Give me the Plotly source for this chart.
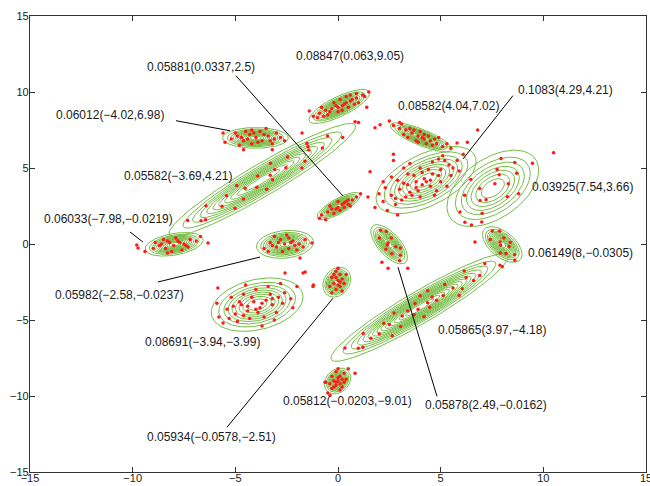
import numpy as np
import plotly.graph_objects as go

# ---- mixture components ----
weights = [0.08847, 0.05881, 0.06012, 0.08582, 0.1083, 0.05582, 0.03925, 0.06033,
           0.06149, 0.05982, 0.08691, 0.05865, 0.05812, 0.05878, 0.05934]
mean_x = [0.063, 0.0337, -4.02, 4.04, 4.29, -3.69, 7.54, -7.98,
          8.0, -2.58, -3.94, 3.97, -0.0203, 2.49, -0.0578]
mean_y = [9.05, 2.5, 6.98, 7.02, 4.21, 4.21, 3.66, -0.0219,
          -0.0305, -0.0237, -3.99, -4.18, -9.01, -0.0162, -2.51]
label_mx = ["0.063", "0.0337", "\u22124.02", "4.04", "4.29", "\u22123.69", "7.54", "\u22127.98",
            "8", "\u22122.58", "\u22123.94", "3.97", "\u22120.0203", "2.49", "\u22120.0578"]
label_my = ["9.05", "2.5", "6.98", "7.02", "4.21", "4.21", "3.66", "\u22120.0219",
            "\u22120.0305", "\u22120.0237", "\u22123.99", "\u22124.18", "\u22129.01", "\u22120.0162", "\u22122.51"]
# outer-contour semi axes (data units) and orientation (deg), estimated
semi_major = [1.75, 1.3, 1.6, 1.7, 2.9, 5.8, 2.9, 1.45, 1.35, 1.4, 2.35, 5.5, 0.88, 1.45, 1.0]
semi_minor = [0.6, 0.45, 0.68, 0.5, 1.55, 0.95, 1.7, 0.7, 0.7, 0.9, 1.6, 0.95, 0.6, 0.6, 0.65]
angle_deg = [35, 39, 0, -30, 40, 39, 52, 15, -55, 10, 25, 39, 70, -60, 75]
n_levels = [12, 12, 12, 12, 9, 11, 7, 12, 12, 12, 9, 14, 12, 12, 12]

# ---- sample points ----
pts_x = [
    # comp 1
    -1.2, -0.9, -0.6, -0.3, 0.0, 0.3, 0.6, 0.9, 1.2, -0.5, 0.2, 0.5, 0.8, -0.2, 0.1, 0.4, -0.8, 1.0, 0.0, 0.6, -1.4, 1.0, 1.4, 0.83,
    -1.0, -0.4, 0.2, 0.7, 1.3, -0.1, 0.4, 0.9, -0.7, 1.5,
    # comp 2
    -0.8, -0.5, -0.3, 0.0, 0.2, 0.4, 0.7, 0.9, -0.2, 0.1, 0.3, 0.5, -0.4, 0.0, 0.6, -0.9, 1.1, -0.6, -0.1, 0.3, 0.5,
    # comp 3
    -5.2, -4.9, -4.6, -4.3, -4.0, -3.7, -3.4, -3.1, -2.8, -4.5, -3.8, -3.2, -4.2, -5.5, -3.5, -4.8, -2.6, -4.1, -5.6, -4.6, -3.2, -1.75, -1.46,
    -4.4, -3.9, -3.6, -4.7, -5.0, -3.0, -4.2, -3.3,
    # comp 4
    2.7, 3.0, 3.3, 3.6, 3.9, 4.2, 4.5, 4.8, 5.1, 3.5, 4.0, 4.4, 3.8, 4.3, 3.2, 4.7, 5.3, 2.5, 3.0, 4.1, 1.8, 2.05, 6.8, 6.3, 5.8,
    3.4, 3.7, 4.6, 4.9, 3.1, 5.5, 4.2, 3.9,
    # comp 5
    2.2, 2.6, 3.0, 3.4, 3.8, 4.2, 4.6, 5.0, 5.4, 5.8, 2.8, 3.3, 3.9, 4.5, 5.0, 5.5, 2.3, 2.9, 3.4, 4.0, 4.6, 5.1, 3.6, 4.1, 4.4, 3.1, 4.8, 3.5, 2.0, 6.1,
    4.3, 3.7, 2.6, 5.9, 1.8, 2.4, 3.2, 4.9, 4.0, 5.3, 1.56, 2.2, 1.46, 2.9, 2.7, 2.7,
    3.8, 4.5, 3.2, 4.9, 5.6, 2.8, 4.1, 3.5, 5.2, 4.7,
    # comp 6
    -7.32, -6.45, -6.43, -5.65, -5.43, -4.61, -4.53, -3.95, -3.91, -3.19, -3.08, -2.54, -2.46, -1.61, -1.42, -0.76, -0.51,
    -3.47, -3.29, -5.02, -1.76, -3.30, -4.93, -1.51, -6.67, 0.23,
    # comp 7
    5.94, 7.02, 6.17, 7.21, 6.90, 8.25, 7.64, 8.29, 7.75, 8.70, 8.61, 9.47, 6.18, 6.47, 8.80, 7.94, 6.92, 7.85, 10.5,
    # comp 8
    -9.0, -8.7, -8.4, -8.2, -8.0, -7.8, -7.5, -7.2, -6.9, -8.5, -7.6, -8.9, -7.3, -8.1, -7.9, -9.4, -6.7, -8.3, -9.74, -9.8, -6.33,
    -8.6, -7.7, -8.3, -7.4,
    # comp 9
    7.51, 7.41, 8.08, 7.92, 8.33, 8.18, 8.60, 7.89, 8.39, 7.90, 8.61, 7.87, 6.67, 6.5, 7.0, 8.0,
    # comp 10
    -3.6, -3.3, -3.0, -2.8, -2.6, -2.4, -2.2, -1.9, -1.6, -3.1, -2.0, -2.7, -3.4, -1.7, -2.5, -2.3, -1.27, -1.85,
    -2.9, -2.1, -3.2, -2.4,
    # comp 11
    -5.8, -5.4, -5.0, -4.7, -4.4, -4.1, -3.8, -3.5, -3.2, -2.9, -2.6, -2.3, -5.2, -4.6, -4.0, -3.4, -2.8, -5.6, -4.9, -4.3,
    -3.6, -3.0, -2.2, -4.5, -3.9, -3.3, -4.2, -5.9, -2.0, -3.7, -4.8, -3.1, -5.85, -2.58, -1.7, -1.2,
    -4.4, -3.7, -5.1, -3.2, -4.6, -2.7, -5.3, -4.0,
    # comp 12
    0.34, 1.21, 1.23, 2.01, 2.23, 3.05, 3.13, 3.71, 3.75, 4.47, 4.58, 5.12, 5.20, 6.05, 6.24, 6.90, 7.15,
    4.19, 4.37, 2.64, 5.90, 2.73, 6.15, 0.99, 7.89, 4.36,
    3.4, 4.8, 2.5, 5.6, 1.6, 6.6, 3.9, 4.0,
    # comp 13
    -0.3, -0.1, 0.1, -0.2, 0.0, 0.2, 0.3, -0.3, 0.1, -0.4, 0.4, 0.0, -0.1, 0.2, -0.5, 0.5, -0.6, -0.63, 0.83, 0.0, -0.39,
    -0.1, 0.1, -0.2, 0.3,
    # comp 14
    2.08, 2.02, 2.60, 2.40, 2.81, 2.62, 3.03, 3.00, 2.44, 2.33, 2.35, 3.04, 2.44, 3.4, 2.14,
    # comp 15
    -0.3, -0.1, 0.1, -0.2, 0.0, 0.2, -0.3, 0.1, -0.1, 0.3, -0.4, 0.2, 0.0, -0.2, 0.4, -1.22, -1.6,
    0.0, -0.1, 0.1,
]
pts_y = [
    # comp 1
    8.4, 8.6, 8.8, 8.9, 9.0, 9.2, 9.4, 9.6, 9.8, 8.5, 8.8, 9.0, 9.2, 9.3, 9.5, 9.7, 9.0, 9.3, 8.7, 9.8, 8.75, 8.0, 9.0, 8.04,
    8.3, 8.7, 9.1, 9.5, 9.7, 9.1, 9.3, 9.9, 8.4, 10.0,
    # comp 2
    1.9, 2.1, 2.3, 2.4, 2.6, 2.8, 2.9, 3.1, 2.0, 2.2, 2.4, 2.6, 2.5, 2.8, 2.5, 1.7, 3.3, 1.6, 2.3, 2.7, 2.9,
    # comp 3
    6.9, 7.1, 6.8, 7.2, 7.0, 6.8, 7.1, 6.9, 7.0, 7.4, 7.4, 6.6, 6.6, 6.7, 7.6, 6.5, 6.8, 7.3, 7.3, 6.2, 6.2, 7.3, 6.4,
    6.9, 6.7, 7.2, 7.0, 7.3, 7.3, 7.5, 6.8,
    # comp 4
    7.8, 7.6, 7.5, 7.3, 7.1, 6.9, 6.8, 6.6, 6.4, 7.6, 7.4, 7.1, 6.8, 6.6, 7.2, 6.9, 6.6, 8.1, 8.0, 7.0, 7.65, 7.85, 7.5, 6.7, 6.65,
    7.0, 7.5, 6.5, 7.0, 7.9, 6.3, 7.2, 6.7,
    # comp 5
    2.8, 3.2, 3.6, 3.9, 4.1, 4.3, 4.6, 4.9, 5.2, 5.5, 2.6, 3.1, 3.5, 3.8, 4.1, 4.5, 3.7, 4.2, 4.6, 5.0, 5.4, 5.8, 3.2, 3.9, 4.9, 2.9, 3.5, 5.3, 3.3, 5.9,
    4.1, 4.5, 4.4, 4.8, 2.4, 2.2, 5.0, 5.6, 3.1, 3.8, 4.75, 4.1, 3.1, 1.9, 5.9, 5.5,
    3.7, 4.2, 4.0, 4.5, 5.0, 3.0, 4.7, 3.4, 5.5, 3.2,
    # comp 6
    1.54, 1.59, 2.51, 2.49, 3.18, 2.96, 3.66, 3.74, 4.48, 4.23, 4.90, 5.01, 5.72, 5.45, 6.18, 6.31, 7.10,
    3.61, 5.31, 2.36, 5.00, 4.52, 3.85, 6.61, 1.53, 7.0,
    # comp 7
    2.11, 2.03, 3.20, 2.91, 3.65, 3.11, 3.96, 3.96, 4.90, 4.66, 5.36, 5.32, 1.43, 4.24, 3.31, 5.63, 2.87, 4.55, 6.0,
    # comp 8
    -0.3, -0.1, -0.3, 0.1, -0.1, 0.2, 0.0, 0.3, 0.2, 0.3, -0.4, 0.1, -0.2, -0.5, 0.4, -0.5, 0.5, -0.6, -0.26, -0.07, 0.07,
    0.0, 0.1, 0.2, -0.1,
    # comp 9
    0.85, 0.29, 0.39, -0.09, -0.17, -0.63, -0.71, 0.13, 0.12, -0.59, -1.07, 0.86, 0.13, 1.25, 1.45, -1.5,
    # comp 10
    -0.3, 0.1, -0.2, 0.3, 0.0, -0.3, 0.2, 0.0, 0.3, 0.5, -0.4, -0.5, -0.5, -0.2, 0.6, 0.1, 0.07, -0.92,
    0.1, -0.1, -0.1, 0.4,
    # comp 11
    -4.8, -4.3, -4.6, -4.0, -4.4, -3.8, -4.2, -3.7, -4.0, -3.5, -3.2, -3.6, -3.5, -3.3, -3.0, -2.8, -2.6, -5.2, -5.1, -4.9,
    -4.8, -4.5, -4.2, -2.7, -4.5, -3.3, -3.5, -3.9, -2.8, -5.4, -3.8, -5.0, -2.9, -1.9, -1.9, -2.7,
    -4.1, -3.9, -4.1, -3.6, -4.7, -3.9, -4.9, -4.3,
    # comp 12
    -6.85, -6.80, -5.88, -5.90, -5.21, -5.43, -4.73, -4.65, -3.91, -4.16, -3.49, -3.38, -2.67, -2.94, -2.21, -2.08, -1.29,
    -4.78, -3.08, -6.03, -3.39, -4.54, -1.78, -6.86, -1.39, -3.87,
    -4.4, -3.7, -5.3, -2.9, -6.2, -2.4, -4.3, -3.4,
    # comp 13
    -9.5, -9.3, -9.2, -9.0, -8.8, -8.9, -8.5, -8.7, -9.6, -9.2, -8.9, -9.0, -8.4, -9.4, -9.8, -8.2, -9.1, -9.1, -8.5, -8.2, -9.95,
    -9.1, -8.7, -9.4, -9.1,
    # comp 14
    0.90, 0.40, 0.39, -0.07, -0.18, -0.64, -0.74, -1.11, 0.07, -0.34, 0.83, -0.27, -1.6, -1.6, -1.2,
    # comp 15
    -3.2, -3.0, -2.8, -2.6, -2.4, -2.3, -2.2, -2.0, -1.8, -2.6, -2.8, -3.1, -1.6, -2.0, -2.0, -2.8, -1.85,
    -2.7, -2.2, -2.5,
]

tick_vals = [-15, -10, -5, 0, 5, 10, 15]

# ---- label placement (layout, in axis units) ----
label_pos = [(0.58, 12.39), (-6.67, 11.67), (-11.1, 8.5), (5.36, 9.1), (11.06, 10.15),
             (-7.79, 4.48), (11.93, 3.76), (-11.2, 1.65), (11.79, -0.59), (-10.62, -3.36),
             (-6.62, -6.46), (7.5, -5.67), (0.45, -10.35), (7.2, -10.6), (-6.14, -12.72)]
leaders = {1: ((-4.97, 11.07), (0.24, 3.16)),
           2: ((-7.89, 8.11), (-5.26, 7.45)),
           4: ((8.52, 9.76), (6.09, 5.6)),
           7: ((-10.13, 0.79), (-9.5, 0.13)),
           9: ((-8.77, -2.5), (-3.8, -0.86)),
           13: ((4.82, -10.02), (2.92, -1.52)),
           14: ((-5.41, -12.06), (-0.24, -3.56))}

GREEN = "#74bd44"
fig = go.Figure()

t = np.linspace(0, 2 * np.pi, 121)
for i in range(len(weights)):
    n = n_levels[i]
    fr = np.arange(1, n + 1) / (n + 1)
    r = np.sqrt(-2 * np.log(fr))
    r = r / r[0]
    th = np.deg2rad(angle_deg[i])
    xs, ys = [], []
    for rk in r:
        ex = semi_major[i] * rk * np.cos(t)
        ey = semi_minor[i] * rk * np.sin(t)
        xs += list(mean_x[i] + ex * np.cos(th) - ey * np.sin(th)) + [None]
        ys += list(mean_y[i] + ex * np.sin(th) + ey * np.cos(th)) + [None]
    fig.add_trace(go.Scatter(x=xs, y=ys, mode="lines", line=dict(color=GREEN, width=1),
                             hoverinfo="skip", showlegend=False))

fig.add_trace(go.Scatter(x=pts_x, y=pts_y, mode="markers",
                         marker=dict(color="#ff1a1a", size=3.5, line=dict(width=0)),
                         showlegend=False))

FONT = dict(family="Liberation Sans, Arial, sans-serif", size=12, color="#1a1a1a")
for i in range(len(weights)):
    txt = f"{weights[i]:.4g}({label_mx[i]},{label_my[i]})"
    fig.add_annotation(x=label_pos[i][0], y=label_pos[i][1], text=txt, showarrow=False,
                       font=FONT, xref="x", yref="y")
for i, (p0, p1) in leaders.items():
    fig.add_shape(type="line", x0=p0[0], y0=p0[1], x1=p1[0], y1=p1[1],
                  line=dict(color="black", width=1), xref="x", yref="y")

axis_common = dict(range=[-15, 15], tickvals=tick_vals, ticks="inside", ticklen=5,
                   tickcolor="#333", showline=True, linecolor="#333", linewidth=1.2,
                   mirror="ticks", showgrid=False, zeroline=False, automargin=False,
                   ticklabeloverflow="allow",
                   tickfont=dict(family="Liberation Sans, Arial, sans-serif", size=11, color="#1a1a1a"))
fig.update_xaxes(**axis_common, ticklabelstandoff=-4)
fig.update_yaxes(**axis_common, ticklabelstandoff=-2)
fig.update_layout(width=650, height=486, margin=dict(l=30, r=4, t=16, b=14),
                  plot_bgcolor="white", paper_bgcolor="white")

# remove the browser's default 8px page margin so the figure fills the window exactly
fig.write_html("out.html", config={"displayModeBar": False},
               post_script="document.body.style.margin='0';document.body.style.overflow='hidden';")
